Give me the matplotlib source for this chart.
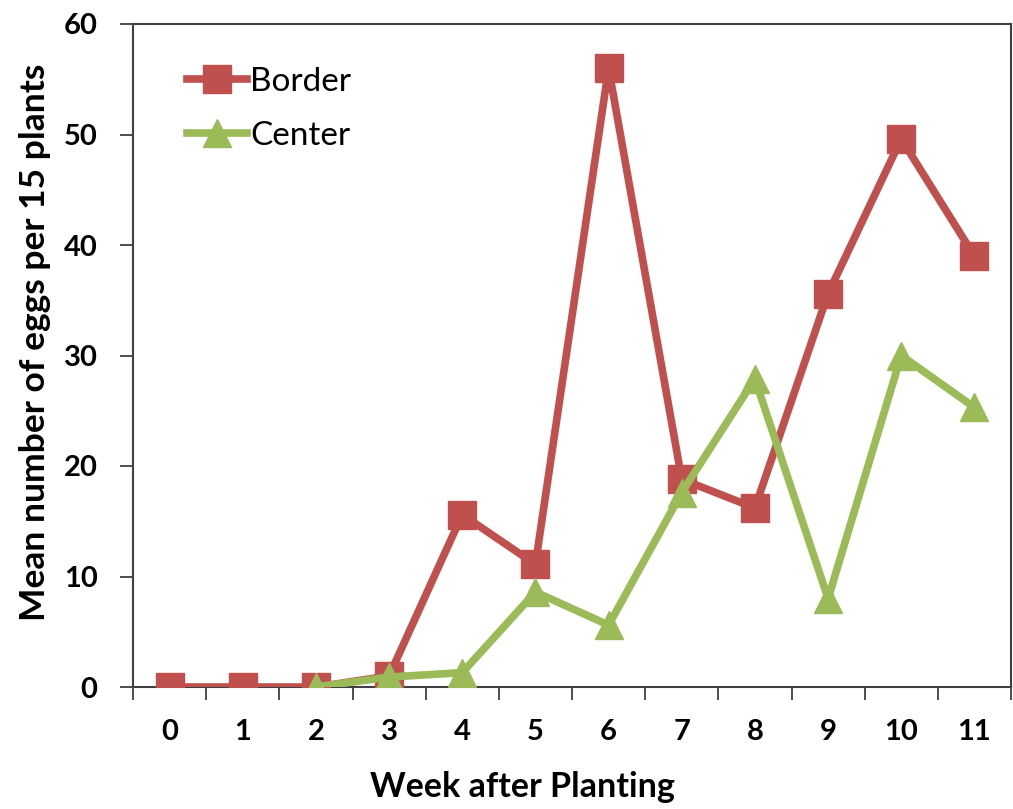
import numpy as np
import matplotlib
matplotlib.use("Agg")
import matplotlib.pyplot as plt

weeks = [0, 1, 2, 3, 4, 5, 6, 7, 8, 9, 10, 11]
border = [0, 0, 0, 1.0, 15.6, 11.1, 56.0, 18.8, 16.2, 35.6, 49.6, 39.0]
center = [np.nan, np.nan, 0, 0.9, 1.3, 8.6, 5.6, 17.6, 27.9, 8.0, 30.0, 25.3]
yticks = [0, 10, 20, 30, 40, 50, 60]

plt.rcParams['font.family'] = ['Lato', 'DejaVu Sans']

fig = plt.figure(figsize=(10.13, 8.09), dpi=100)
ax = fig.add_axes([133/1013, 1-687/809, (1011-133)/1013, (687-24)/809])

red = '#C0504D'
green = '#9BBB59'
ax.plot(weeks, border, color=red, lw=5.5, marker='s', ms=19.5, label='Border', zorder=3)
ax.plot(weeks, center, color=green, lw=5.5, marker='^', ms=20, label='Center', zorder=4)

ax.set_xlim(-0.5, 11.5)
ax.set_ylim(0, 60)
ax.set_yticks(yticks)
ax.set_xticks(weeks)
ax.set_xticklabels([str(w) for w in weeks], fontsize=21, fontweight='bold')
ax.set_xticks(np.arange(-0.5, 11.6, 1), minor=True)
ax.tick_params(axis='x', which='major', length=0, pad=23)
ax.tick_params(axis='x', which='minor', length=9.5, width=1.3, color='#404040', direction='out')
ax.tick_params(axis='y', length=9.5, width=1.3, color='#404040', direction='out', labelsize=21, pad=16)
for lab in ax.get_yticklabels():
    lab.set_fontweight('bold')
for s in ax.spines.values():
    s.set_linewidth(1.5)
    s.set_color('#404040')

ax.set_xlabel('Week after Planting', fontsize=24.5, fontweight='bold', labelpad=19)
ax.set_ylabel('Mean number of eggs per 15 plants', fontsize=25.5, fontweight='bold', labelpad=9)
ax.xaxis.label.set_x(0.444)
ax.yaxis.label.set_y(0.52)

ax.legend(loc='upper left', bbox_to_anchor=(0.046, 0.956), frameon=False, fontsize=24,
          handlelength=1.8, handletextpad=0.1, labelspacing=0.72, borderaxespad=0)

fig.savefig('out.png', dpi=100)
